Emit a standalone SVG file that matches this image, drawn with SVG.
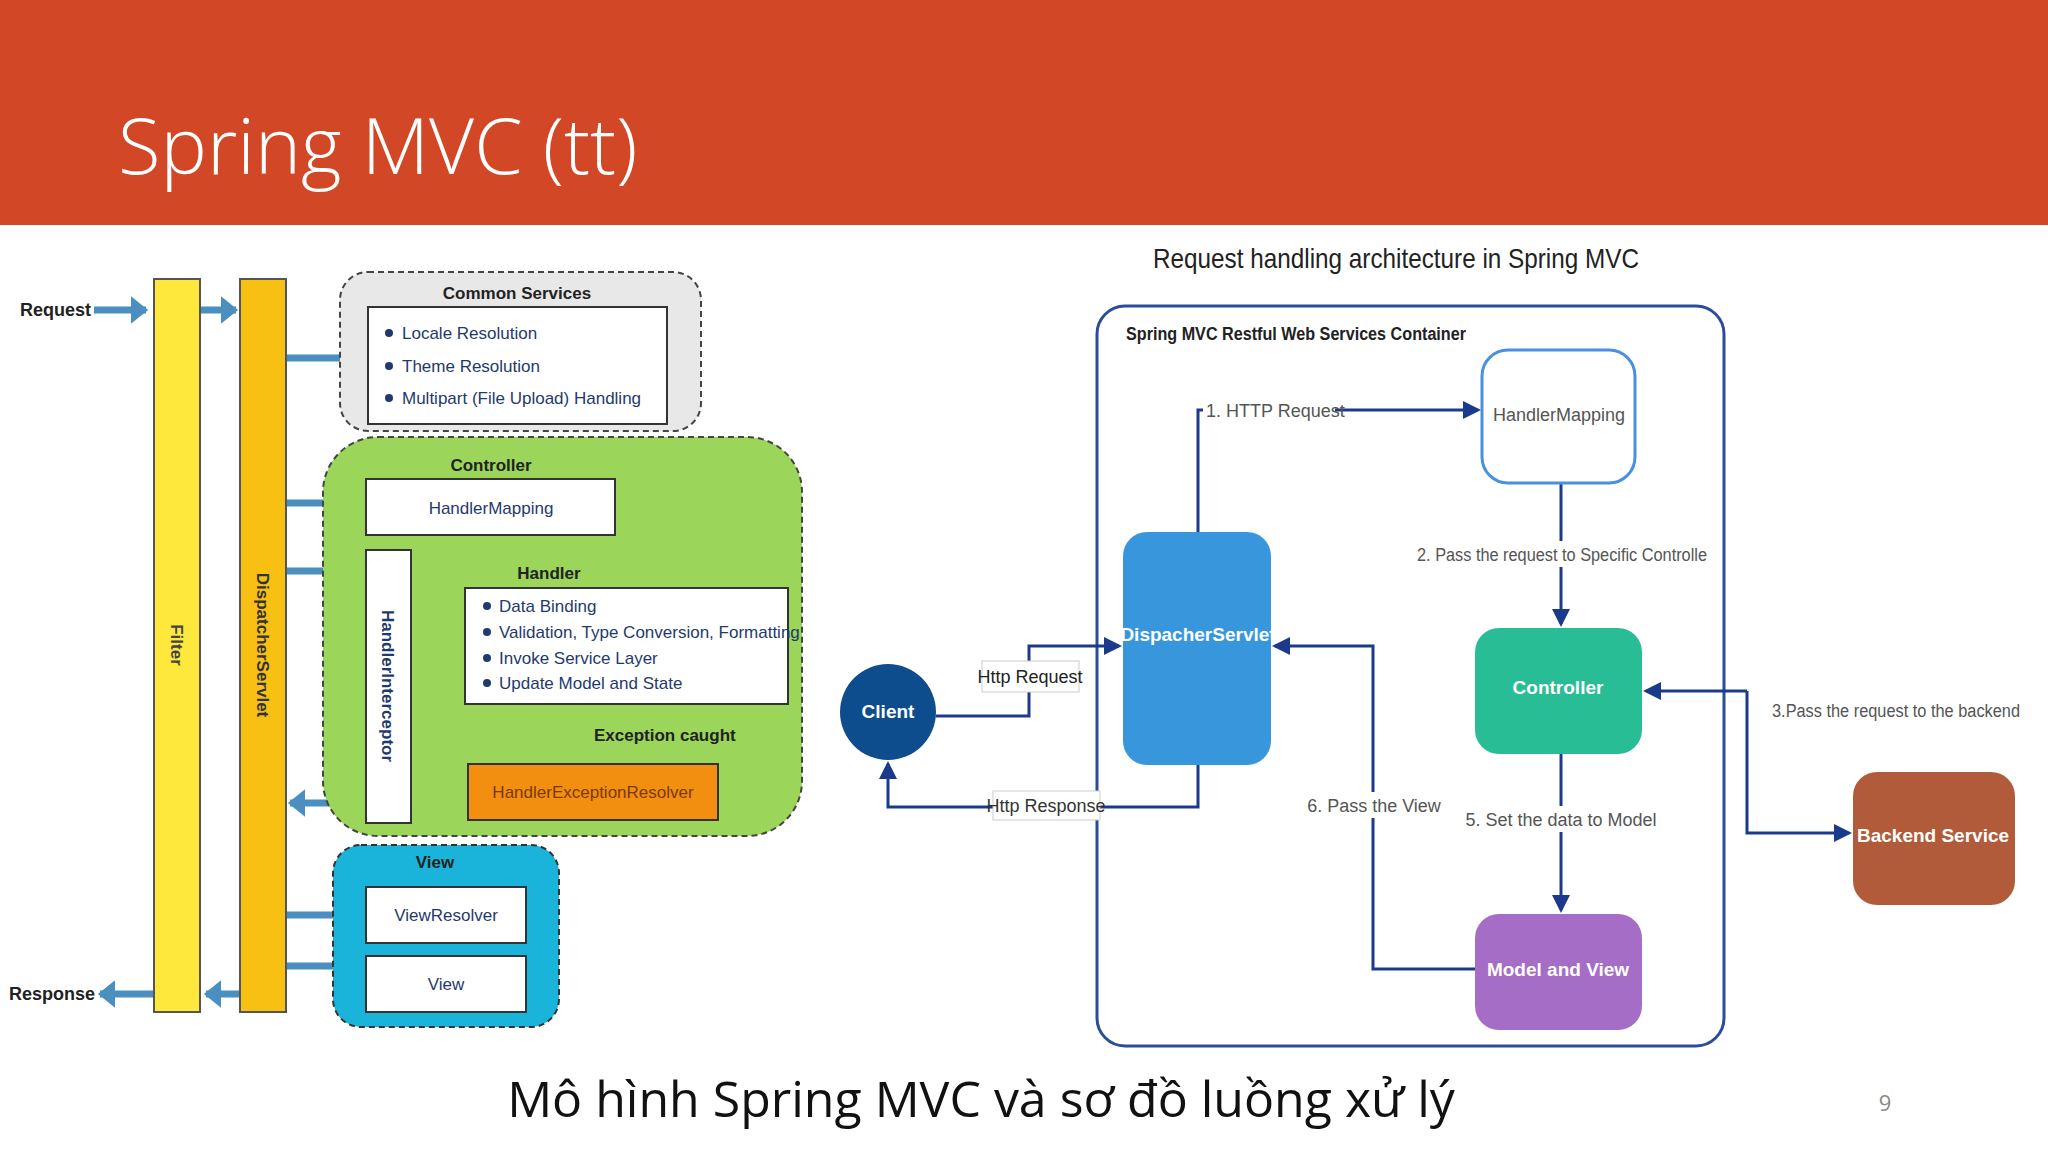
<svg xmlns="http://www.w3.org/2000/svg" width="2048" height="1152" viewBox="0 0 2048 1152">
<defs>
<marker id="ba" markerWidth="4" markerHeight="4" refX="2.2" refY="2" orient="auto" markerUnits="strokeWidth"><path d="M0,0 L2.5,2 L0,4 Z" fill="#4a8fc0"/></marker>
<marker id="da" markerWidth="6" markerHeight="6" refX="5" refY="3" orient="auto" markerUnits="strokeWidth"><path d="M0,0 L6,3 L0,6 Z" fill="#1b3a8c"/></marker>
<marker id="ka" markerWidth="8" markerHeight="8" refX="6" refY="4" orient="auto" markerUnits="strokeWidth"><path d="M0,0 L7,4 L0,8" fill="none" stroke="#222"/></marker>
</defs>
<style>
.t{font-family:"Liberation Sans",Arial,sans-serif}
.b{font-weight:bold}
.bl{stroke:#4a8fc0;stroke-width:7;fill:none;marker-end:url(#ba)}
.wb{fill:#fff;stroke:#333;stroke-width:2}
.li{font-size:17px;fill:#1f3a6e}
.dc{stroke:#1b3a8c;stroke-width:3;fill:none}
.dl{font-size:18px;fill:#555}
.wt{font-size:19px;fill:#fff;font-weight:bold}
</style>
<rect x="0" y="0" width="2048" height="225" fill="#d24726"/>
<text x="118" y="174" font-family="'Open Sans',sans-serif" font-weight="300" font-size="78" fill="#fff">Spring MVC (tt)</text>
<rect x="0" y="225" width="2048" height="927" fill="#fff"/>

<g id="left-connectors">
<line class="bl" x1="94" y1="310" x2="146" y2="310"/>
<line class="bl" x1="200" y1="310" x2="236" y2="310"/>
<line class="bl" x1="154" y1="994" x2="100" y2="994"/>
<line class="bl" x1="240" y1="994" x2="206" y2="994"/>
<line class="bl" x1="286" y1="358" x2="362" y2="358"/>
<line class="bl" x1="286" y1="503" x2="362" y2="503"/>
<line class="bl" x1="286" y1="571" x2="362" y2="571"/>
<line class="bl" x1="411" y1="614" x2="461" y2="614"/>
<line class="bl" x1="465" y1="674" x2="415" y2="674"/>
<line class="bl" x1="468" y1="785" x2="415" y2="785"/>
<line class="bl" x1="366" y1="803" x2="290" y2="803"/>
<line class="bl" x1="286" y1="915" x2="362" y2="915"/>
<line class="bl" x1="286" y1="966" x2="362" y2="966"/>
<line x1="573" y1="707" x2="573" y2="758" stroke="#222" stroke-width="2" stroke-dasharray="5,4" marker-end="url(#ka)"/>
</g>

<g id="request-label"><text class="t b" x="20" y="316" font-size="18" fill="#222">Request</text></g>
<g id="response-label"><text class="t b" x="9" y="1000" font-size="18" fill="#222">Response</text></g>
<g id="filter"><rect x="154" y="279" width="46" height="733" fill="#ffe83c" stroke="#555" stroke-width="2"/>
<text class="t b" transform="translate(171,645) rotate(90)" text-anchor="middle" font-size="17" fill="#444">Filter</text></g>
<g id="dispatcher-bar"><rect x="240" y="279" width="46" height="733" fill="#f8c012" stroke="#555" stroke-width="2"/>
<text class="t b" transform="translate(257,645) rotate(90)" text-anchor="middle" font-size="17" fill="#333">DispatcherServlet</text></g>

<g id="common-services">
<rect x="340" y="272" width="361" height="159" rx="28" fill="#e8e8e8" stroke="#444" stroke-width="2" stroke-dasharray="6,4"/>
<text class="t b" x="517" y="299" text-anchor="middle" font-size="17" fill="#222">Common Services</text>
<rect class="wb" x="368" y="307" width="299" height="117"/>
<circle cx="389" cy="333" r="4" fill="#1f3a6e"/><text class="t li" x="402" y="339">Locale Resolution</text>
<circle cx="389" cy="366" r="4" fill="#1f3a6e"/><text class="t li" x="402" y="372">Theme Resolution</text>
<circle cx="389" cy="398" r="4" fill="#1f3a6e"/><text class="t li" x="402" y="404">Multipart (File Upload) Handling</text>
</g>

<g id="controller-group">
<rect x="323" y="437" width="479" height="399" rx="55" fill="#9bd55a" stroke="#444" stroke-width="2" stroke-dasharray="6,4"/>
<text class="t b" x="491" y="471" text-anchor="middle" font-size="17" fill="#222">Controller</text>
</g>
<g id="handler-mapping-l"><rect class="wb" x="366" y="479" width="249" height="56"/>
<text class="t li" x="491" y="514" text-anchor="middle">HandlerMapping</text></g>
<g id="handler-interceptor"><rect class="wb" x="366" y="550" width="45" height="273"/>
<text class="t b" transform="translate(382,686) rotate(90)" text-anchor="middle" font-size="17" fill="#1f3a6e">HandlerInterceptor</text></g>
<g id="handler">
<text class="t b" x="549" y="579" text-anchor="middle" font-size="17" fill="#222">Handler</text>
<rect class="wb" x="465" y="588" width="323" height="116"/>
<circle cx="487" cy="606" r="4" fill="#1f3a6e"/><text class="t li" x="499" y="612">Data Binding</text>
<circle cx="487" cy="632" r="4" fill="#1f3a6e"/><text class="t li" x="499" y="638">Validation, Type Conversion, Formatting</text>
<circle cx="487" cy="658" r="4" fill="#1f3a6e"/><text class="t li" x="499" y="664">Invoke Service Layer</text>
<circle cx="487" cy="683" r="4" fill="#1f3a6e"/><text class="t li" x="499" y="689">Update Model and State</text>
<text class="t b" x="594" y="741" font-size="17" fill="#222">Exception caught</text>
</g>
<g id="handler-exception-resolver"><rect x="468" y="764" width="250" height="56" fill="#f28e10" stroke="#333" stroke-width="2"/>
<text class="t" x="593" y="798" text-anchor="middle" font-size="17" fill="#7a3a0a">HandlerExceptionResolver</text></g>

<g id="view-group">
<rect x="333" y="845" width="226" height="182" rx="28" fill="#1ab4da" stroke="#333" stroke-width="2" stroke-dasharray="6,4"/>
<text class="t b" x="435" y="868" text-anchor="middle" font-size="17" fill="#222">View</text>
</g>
<g id="view-resolver"><rect class="wb" x="366" y="887" width="160" height="56"/>
<text class="t li" x="446" y="921" text-anchor="middle">ViewResolver</text></g>
<g id="view"><rect class="wb" x="366" y="956" width="160" height="56"/>
<text class="t li" x="446" y="990" text-anchor="middle">View</text></g>

<text class="t" x="1396" y="268" text-anchor="middle" font-size="28" fill="#222" textLength="486" lengthAdjust="spacingAndGlyphs">Request handling architecture in Spring MVC</text>

<g id="container"><rect x="1097" y="306" width="627" height="740" rx="28" fill="#fff" stroke="#2b4c9a" stroke-width="3"/>
<text class="t b" x="1126" y="340" font-size="18" fill="#222" textLength="340" lengthAdjust="spacingAndGlyphs">Spring MVC Restful Web Services Container</text></g>

<g id="right-connectors">
<path class="dc" d="M1198,532 V410 H1478" marker-end="url(#da)"/>
<path class="dc" d="M1561,483 V624" marker-end="url(#da)"/>
<path class="dc" d="M1747,691 V833 H1849" marker-end="url(#da)"/>
<path class="dc" d="M1747,691 H1646" marker-end="url(#da)"/>
<path class="dc" d="M1561,754 V910" marker-end="url(#da)"/>
<path class="dc" d="M1475,969 H1373 V646 H1275" marker-end="url(#da)"/>
<path class="dc" d="M936,716 H1029 V646 H1119" marker-end="url(#da)"/>
<path class="dc" d="M1198,765 V807 H888 V764" marker-end="url(#da)"/>
<rect x="1203" y="398" width="132" height="24" fill="#fff"/>
<text class="t dl" x="1206" y="417">1. HTTP Request</text>
<rect x="1415" y="541" width="295" height="26" fill="#fff"/>
<text class="t dl" x="1562" y="561" text-anchor="middle" textLength="290" lengthAdjust="spacingAndGlyphs">2. Pass the request to Specific Controlle</text>
<text class="t dl" x="1772" y="717" textLength="248" lengthAdjust="spacingAndGlyphs">3.Pass the request to the backend</text>
<rect x="1475" y="806" width="172" height="26" fill="#fff"/>
<text class="t dl" x="1561" y="826" text-anchor="middle">5. Set the data to Model</text>
<rect x="1313" y="792" width="122" height="26" fill="#fff"/>
<text class="t dl" x="1374" y="812" text-anchor="middle">6. Pass the View</text>
<rect x="982" y="661" width="97" height="31" fill="#fff" stroke="#ccc" stroke-width="1"/>
<text class="t" x="1030" y="683" text-anchor="middle" font-size="18" fill="#222">Http Request</text>
<rect x="993" y="791" width="107" height="29" fill="#fff" stroke="#ccc" stroke-width="1"/>
<text class="t" x="1046" y="812" text-anchor="middle" font-size="18" fill="#333">Http Response</text>
</g>

<g id="handler-mapping-r"><rect x="1482" y="350" width="153" height="133" rx="26" fill="#fff" stroke="#4a90e2" stroke-width="3"/>
<text class="t" x="1559" y="421" text-anchor="middle" font-size="18" fill="#555">HandlerMapping</text></g>
<g id="dispatcher-servlet"><rect x="1123" y="532" width="148" height="233" rx="24" fill="#3897dc"/>
<text class="t wt" x="1198" y="641" text-anchor="middle">DispacherServlet</text></g>
<g id="controller"><rect x="1475" y="628" width="167" height="126" rx="24" fill="#29bd95"/>
<text class="t wt" x="1558" y="694" text-anchor="middle">Controller</text></g>
<g id="model-and-view"><rect x="1475" y="914" width="167" height="116" rx="24" fill="#a56dc6"/>
<text class="t wt" x="1558" y="976" text-anchor="middle">Model and View</text></g>
<g id="backend-service"><rect x="1853" y="772" width="162" height="133" rx="24" fill="#b25b3a"/>
<text class="t wt" x="1933" y="842" text-anchor="middle">Backend Service</text></g>
<g id="client"><circle cx="888" cy="712" r="48" fill="#0d4c8d"/>
<text class="t wt" x="888" y="718" text-anchor="middle">Client</text></g>

<text x="981" y="1117" text-anchor="middle" font-family="'Open Sans',sans-serif" font-size="50" fill="#111">Mô hình Spring MVC và sơ đồ luồng xử lý</text>
<text x="1885" y="1111" text-anchor="middle" font-family="'Open Sans',sans-serif" font-size="22" fill="#888">9</text>
</svg>
